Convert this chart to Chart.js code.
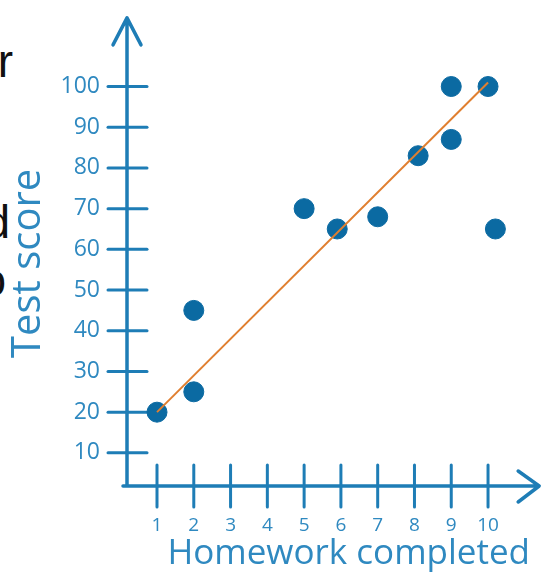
<!DOCTYPE html>
<html>
<head>
<meta charset="utf-8">
<script src="https://cdn.jsdelivr.net/npm/chart.js@4.4.1/dist/chart.umd.min.js"></script>
<style>
  html, body { margin: 0; padding: 0; background: #fff; }
  #wrap { position: relative; width: 542px; height: 578px; overflow: hidden; }
  #box { position: absolute; left: 0; top: 0; width: 542px; height: 578px; }
  .frag { position: absolute; left: -300px; width: 313px; text-align: right;
          font: 46px/46px "Liberation Sans", Arial, sans-serif; color: #111; white-space: nowrap; }
</style>
</head>
<body>
<div id="wrap">
  <div class="frag" style="top:38px">for</div>
  <div class="frag" style="top:199px;width:310px">and</div>
  <div class="frag" style="top:257px;width:306px">to</div>
  <div id="box"><canvas id="chart"></canvas></div>
</div>
<script>
// Homework vs test score — scatter with trend line
const homework = [1, 2, 2, 5, 5.9, 7, 8.1, 9, 9, 10, 10.2];
const scores   = [20, 25, 45, 70, 65, 68, 83, 100, 87, 100, 65];
const trendX = [1, 10];
const trendY = [20, 101];
const xTicks = [1, 2, 3, 4, 5, 6, 7, 8, 9, 10];
const yTicks = [10, 20, 30, 40, 50, 60, 70, 80, 90, 100];

const AXIS = '#1e7db6';
const TEXT = '#2f89c0';

// hand-drawn style axes: arrows + ticks crossing the axis lines
const axesPlugin = {
  id: 'sketchAxes',
  beforeDatasetsDraw(chart) {
    const { ctx, chartArea: a, scales: { x, y } } = chart;
    const top = y.getPixelForValue(116.85);
    const tipX = x.getPixelForValue(11.39);
    ctx.save();
    ctx.strokeStyle = AXIS;
    ctx.lineCap = 'round';
    ctx.lineJoin = 'round';

    ctx.lineWidth = 3;
    yTicks.forEach(v => {
      const py = y.getPixelForValue(v);
      ctx.beginPath(); ctx.moveTo(a.left - 19, py); ctx.lineTo(a.left + 20, py); ctx.stroke();
    });
    xTicks.forEach(v => {
      const px = x.getPixelForValue(v);
      ctx.beginPath(); ctx.moveTo(px, a.bottom - 21); ctx.lineTo(px, a.bottom + 21); ctx.stroke();
    });

    ctx.lineWidth = 3.5;
    ctx.beginPath();
    ctx.moveTo(a.left, a.bottom);
    ctx.lineTo(a.left, top);
    ctx.moveTo(a.left - 14, top + 27); ctx.lineTo(a.left, top); ctx.lineTo(a.left + 14, top + 27);
    ctx.moveTo(a.left - 4, a.bottom);
    ctx.lineTo(tipX, a.bottom);
    ctx.moveTo(tipX - 21, a.bottom - 15); ctx.lineTo(tipX, a.bottom); ctx.lineTo(tipX - 21, a.bottom + 16);
    ctx.stroke();
    ctx.restore();
  }
};

new Chart(document.getElementById('chart'), {
  type: 'scatter',
  data: {
    datasets: [
      {
        type: 'line',
        data: trendX.map((v, i) => ({ x: v, y: trendY[i] })),
        borderColor: '#e07f30',
        borderWidth: 2,
        pointRadius: 0,
        fill: false
      },
      {
        data: homework.map((v, i) => ({ x: v, y: scores[i] })),
        backgroundColor: '#0b6aa2',
        borderColor: '#0b6aa2',
        pointRadius: 10,
        pointHoverRadius: 10
      }
    ]
  },
  options: {
    responsive: true,
    maintainAspectRatio: false,
    animation: false,
    layout: { padding: { top: 38, right: 12, left: 0, bottom: 0 } },
    plugins: { legend: { display: false }, tooltip: { enabled: false } },
    scales: {
      x: {
        type: 'linear',
        min: 0.1843,
        max: 11.141,
        grid: { display: false, drawTicks: false },
        border: { display: false },
        afterBuildTicks: axis => { axis.ticks = xTicks.map(v => ({ value: v })); },
        afterFit: axis => { axis.height = 92; },
        ticks: { color: TEXT, font: { family: 'Open Sans', size: 19 }, padding: 28, maxRotation: 0 },
        title: {
          display: true, text: 'Homework completed', align: 'end', color: TEXT,
          font: { family: 'Open Sans', size: 35 }, padding: { top: 0, bottom: 3 }
        }
      },
      y: {
        type: 'linear',
        min: 1.86,
        max: 111.23,
        grid: { display: false, drawTicks: false },
        border: { display: false },
        afterBuildTicks: axis => { axis.ticks = yTicks.map(v => ({ value: v })); },
        afterFit: axis => { axis.width = 127; },
        ticks: { color: TEXT, font: { family: 'Open Sans', size: 23 }, padding: 27 },
        title: {
          display: true, text: 'Test score', color: TEXT,
          font: { family: 'Open Sans', size: 40 }, padding: { top: 5, bottom: 0 }
        }
      }
    }
  },
  plugins: [axesPlugin]
});
</script>
</body>
</html>
